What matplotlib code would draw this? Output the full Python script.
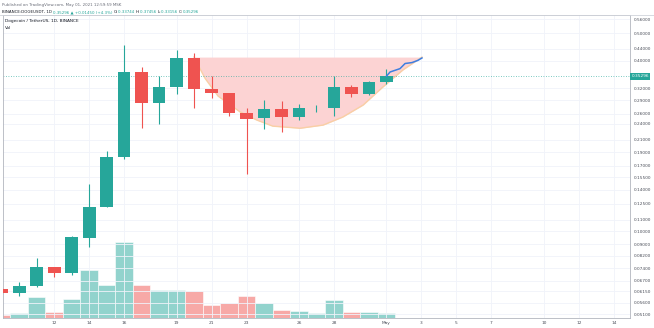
import matplotlib
matplotlib.use('Agg')
import matplotlib.pyplot as plt
import matplotlib.dates as mdates
import matplotlib.transforms as mtransforms
from matplotlib.ticker import NullLocator
import pandas as pd

# daily DOGE/USDT candles, Apr 9 .. May 1 2021
days = pd.to_datetime([
    '2021-04-09', '2021-04-10', '2021-04-11', '2021-04-12', '2021-04-13',
    '2021-04-14', '2021-04-15', '2021-04-16', '2021-04-17', '2021-04-18',
    '2021-04-19', '2021-04-20', '2021-04-21', '2021-04-22', '2021-04-23',
    '2021-04-24', '2021-04-25', '2021-04-26', '2021-04-27', '2021-04-28',
    '2021-04-29', '2021-04-30', '2021-05-01'])
opens = [0.0625, 0.0605, 0.0640, 0.0747, 0.0712, 0.0946, 0.1220, 0.1830,
         0.3650, 0.2840, 0.3230, 0.4090, 0.3180, 0.3070, 0.2610, 0.2510,
         0.2700, 0.2530, 0.2720, 0.2720, 0.3230, 0.3050, 0.33744]
highs = [0.0635, 0.0662, 0.0804, 0.0747, 0.0961, 0.1470, 0.1920, 0.4540,
         0.3800, 0.3530, 0.4360, 0.4260, 0.3530, 0.3070, 0.2720, 0.2910,
         0.2880, 0.2810, 0.2790, 0.3530, 0.3280, 0.3390, 0.37456]
lows = [0.0600, 0.0590, 0.0635, 0.0689, 0.0700, 0.0879, 0.1220, 0.1800,
        0.2310, 0.2390, 0.3050, 0.2720, 0.2950, 0.2550, 0.1590, 0.2290,
        0.2240, 0.2470, 0.2640, 0.2550, 0.2980, 0.3020, 0.33156]
closes = [0.0605, 0.0640, 0.0747, 0.0712, 0.0954, 0.1220, 0.1830, 0.3650,
          0.2840, 0.3230, 0.4090, 0.3180, 0.3070, 0.2610, 0.2490, 0.2700,
          0.2530, 0.2720, 0.2730, 0.3230, 0.3050, 0.3360, 0.35296]
volume = [1.5, 2.5, 10.5, 3.0, 9.5, 24.0, 16.5, 38.0, 16.5, 14.0, 14.0, 13.5,
          6.5, 7.5, 11.0, 7.5, 4.0, 3.5, 2.5, 9.0, 3.0, 3.0, 2.5]

# cup drawing and projected path
cup_days = pd.to_datetime([
    '2021-04-20 00:00', '2021-04-20 15:00', '2021-04-21 09:00', '2021-04-22 15:00',
    '2021-04-23 14:00', '2021-04-24 12:00', '2021-04-26 01:30', '2021-04-27 09:00',
    '2021-04-28 12:00', '2021-04-29 16:00', '2021-04-30 19:00', '2021-05-01 22:30',
    '2021-05-03 00:40'])
cup_top = 0.412
cup_bottom = [0.412, 0.347, 0.300, 0.264, 0.247, 0.235, 0.231, 0.237,
              0.253, 0.279, 0.323, 0.371, 0.412]
path_days = pd.to_datetime([
    '2021-05-01 00:00', '2021-05-01 05:00', '2021-05-01 18:30', '2021-05-02 01:30',
    '2021-05-02 11:00', '2021-05-02 19:00', '2021-05-03 00:40'])
path_prices = [0.353, 0.365, 0.375, 0.391, 0.394, 0.401, 0.409]

price_ticks = [0.56, 0.50, 0.44, 0.40, 0.32, 0.29, 0.26, 0.24, 0.21, 0.19,
               0.17, 0.155, 0.14, 0.125, 0.11, 0.10, 0.09, 0.082, 0.074,
               0.067, 0.0615, 0.056, 0.051]
date_ticks = pd.to_datetime([
    '2021-04-12', '2021-04-14', '2021-04-16', '2021-04-19', '2021-04-21',
    '2021-04-23', '2021-04-26', '2021-04-28', '2021-05-01', '2021-05-03',
    '2021-05-05', '2021-05-07', '2021-05-10', '2021-05-12', '2021-05-14'])
date_labels = ['12', '14', '16', '19', '21', '23', '26', '28', 'May', '3',
               '5', '7', '10', '12', '14']

UP = '#26a69a'
DOWN = '#ef5350'
UP_VOL = '#92d3cd'
DOWN_VOL = '#f7a9a7'
GRID = '#f0f3fa'
TEXT = '#4a4e59'
FS = 3.1

W, H = 654, 328
fig = plt.figure(figsize=(W / 100, H / 100), dpi=100)
ax = fig.add_axes([3 / W, 10 / H, 627 / W, 303 / H])
vax = ax.twinx()

x = mdates.date2num(days)

# volume pane underneath the candles
vol_colors = [UP_VOL if c >= o else DOWN_VOL for o, c in zip(opens, closes)]
vax.bar(x, volume, width=1.0, color=vol_colors, edgecolor='white', linewidth=0.4)
vax.set_ylim(0, max(volume) * 303 / 76)
vax.yaxis.set_major_locator(NullLocator())
for s in vax.spines.values():
    s.set_visible(False)
ax.set_zorder(vax.get_zorder() + 1)
ax.patch.set_visible(False)

ax.set_yscale('log')

# cup shape
cx = mdates.date2num(cup_days)
ax.fill_between(cx, cup_bottom, cup_top, color='#fcd3d3', linewidth=0, zorder=1)
ax.plot(cx, cup_bottom, color='#f9cfa5', lw=1.0, zorder=1)

# candles
for xi, o, h, l, c in zip(x, opens, highs, lows, closes):
    col = UP if c >= o else DOWN
    ax.vlines(xi, l, h, color=col, lw=0.8, zorder=3)
    lo, hi = min(o, c), max(o, c)
    if hi / lo < 1.004:
        hi = lo * 1.004
    ax.bar(xi, hi - lo, bottom=lo, width=0.74, color=col, linewidth=0, zorder=4)

ax.plot(mdates.date2num(path_days), path_prices, color='#3d7ee0', lw=1.1, zorder=5)

last = closes[-1]
ax.axhline(last, color=UP, lw=0.6, ls=(0, (1, 2)), alpha=0.8, zorder=2)

ax.set_xlim(mdates.date2num(pd.Timestamp('2021-04-09 02:00')),
            mdates.date2num(pd.Timestamp('2021-05-14 22:00')))
ax.set_ylim(0.0494, 0.580)

ax.yaxis.tick_right()
ax.yaxis.set_minor_locator(NullLocator())
ax.set_yticks(price_ticks)
ax.set_yticklabels([f'{t:.5f}' for t in price_ticks])
ax.set_xticks(mdates.date2num(date_ticks))
ax.set_xticklabels(date_labels)
ax.tick_params(axis='both', length=0, labelsize=FS, labelcolor=TEXT)
ax.tick_params(axis='y', pad=2.5)
ax.tick_params(axis='x', pad=2.5)
ax.grid(True, color=GRID, lw=0.6)
ax.set_axisbelow(True)
for s in ax.spines.values():
    s.set_color('#b2b5be')
    s.set_linewidth(0.6)

# last price marker on the scale
trans = mtransforms.blended_transform_factory(ax.transAxes, ax.transData)
ax.text(1.002, last, f'{last:.5f}', transform=trans, fontsize=FS, color='white',
        va='center', ha='left', clip_on=False, zorder=6,
        bbox=dict(boxstyle='square,pad=0.35', fc=UP, ec='none'))

# header lines
HFS = 2.9
fig.text(2 / W, 1 - 5 / H, 'Published on TradingView.com, May 01, 2021 12:59:59 MSK',
         fontsize=HFS, color='#6a6d78', va='center')
parts = [('BINANCE:DOGEUSDT, 1D ', '#131722'), ('0.35296 \u25b2 +0.01450 (+4.3%) ', UP),
         ('O:', '#131722'), ('0.33744 ', UP), ('H:', '#131722'), ('0.37456 ', UP),
         ('L:', '#131722'), ('0.33156 ', UP), ('C:', '#131722'), ('0.35296', UP)]
header = [fig.text(0, 0, txt, fontsize=HFS, color=col, va='center')
          for txt, col in parts]
fig.canvas.draw()
renderer = fig.canvas.get_renderer()
xpos = 2
for t in header:
    t.set_position((xpos / W, 1 - 12 / H))
    xpos += t.get_window_extent(renderer).width
fig.add_artist(plt.Line2D([0, 1], [1 - 15 / H, 1 - 15 / H], color='#d0d3da', lw=0.6))

fig.text(5 / W, 1 - 21 / H, 'Dogecoin / TetherUS, 1D, BINANCE', fontsize=FS,
         color='#131722', va='center')
fig.text(5 / W, 1 - 28 / H, 'Vol', fontsize=FS, color='#131722', va='center')

fig.savefig('out.png', dpi=100, facecolor='white')
